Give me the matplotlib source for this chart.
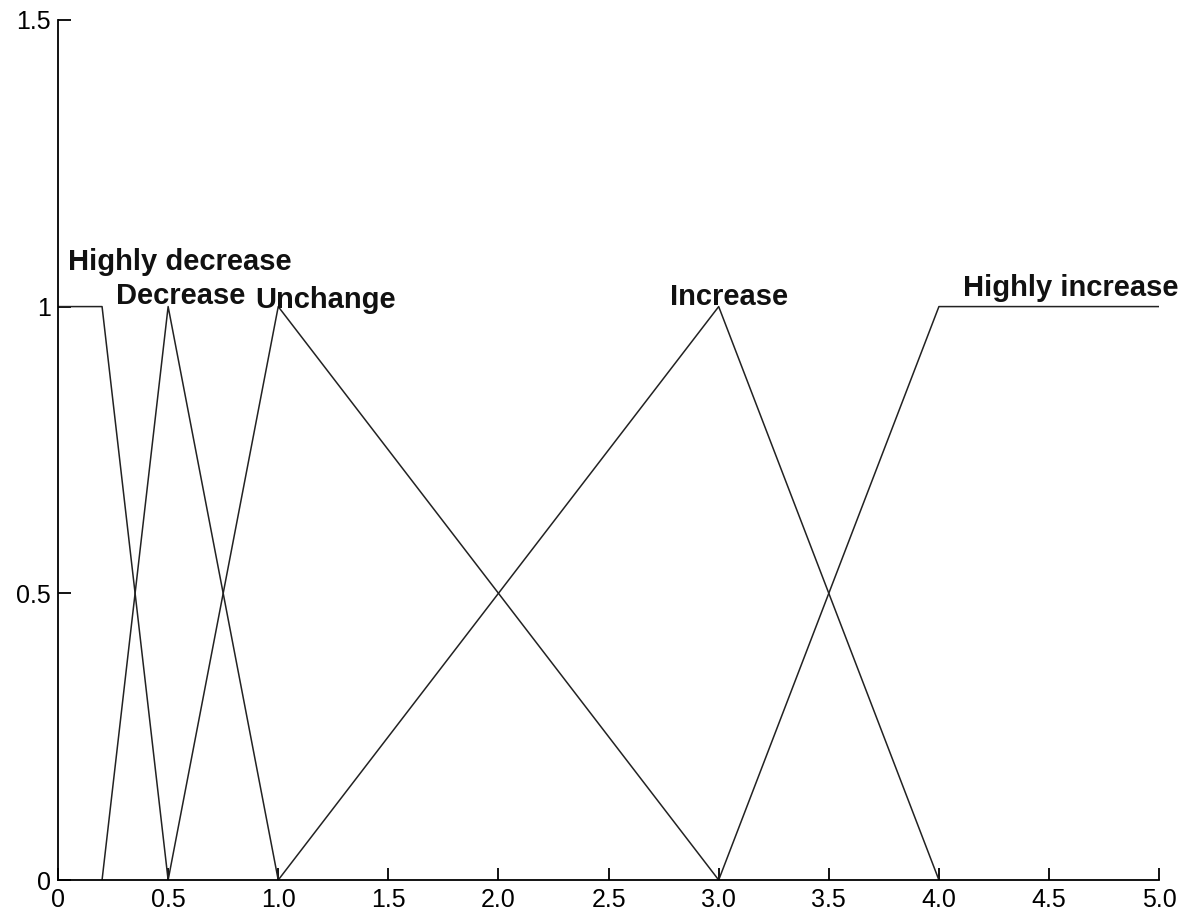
import matplotlib
matplotlib.use('Agg')
import matplotlib.pyplot as plt

# membership functions (x breakpoints, y values)
hd_x = [0.0, 0.2, 0.5]
hd_y = [1.0, 1.0, 0.0]
dec_x = [0.2, 0.5, 1.0]
dec_y = [0.0, 1.0, 0.0]
unc_x = [0.5, 1.0, 3.0]
unc_y = [0.0, 1.0, 0.0]
inc_x = [1.0, 3.0, 4.0]
inc_y = [0.0, 1.0, 0.0]
hi_x = [3.0, 4.0, 5.0]
hi_y = [0.0, 1.0, 1.0]

labels = ['Highly decrease', 'Decrease', 'Unchange', 'Increase', 'Highly increase']
label_x = [0.045, 0.264, 0.895, 2.78, 4.11]
label_y = [1.078, 1.019, 1.012, 1.016, 1.033]

xticks = [0, 0.5, 1.0, 1.5, 2.0, 2.5, 3.0, 3.5, 4.0, 4.5, 5.0]
xticklabels = ['0', '0.5', '1.0', '1.5', '2.0', '2.5', '3.0', '3.5', '4.0', '4.5', '5.0']
yticks = [0, 0.5, 1, 1.5]
yticklabels = ['0', '0.5', '1', '1.5']

plt.rcParams['font.family'] = ['Liberation Sans', 'DejaVu Sans']

fig = plt.figure(figsize=(11.84, 9.16), dpi=100)
ax = fig.add_axes([0.049, 0.0393, 0.930, 0.939])

for xs, ys in [(hd_x, hd_y), (dec_x, dec_y), (unc_x, unc_y), (inc_x, inc_y), (hi_x, hi_y)]:
    ax.plot(xs, ys, color='#222222', linewidth=1.1)

for t, x, y in zip(labels, label_x, label_y):
    ax.text(x, y, t, fontsize=21, fontweight='bold', va='center', ha='left', color='#111111')

ax.set_xlim(0, 5)
ax.set_ylim(0, 1.5)
ax.set_xticks(xticks)
ax.set_xticklabels(xticklabels)
ax.set_yticks(yticks)
ax.set_yticklabels(yticklabels)
ax.spines['top'].set_visible(False)
ax.spines['right'].set_visible(False)
ax.spines['left'].set_linewidth(1.3)
ax.spines['bottom'].set_linewidth(1.3)
ax.tick_params(direction='in', length=9, width=1.3, labelsize=18, pad=5)
ax.tick_params(axis='x', pad=6)

fig.savefig('out.png', dpi=100)
